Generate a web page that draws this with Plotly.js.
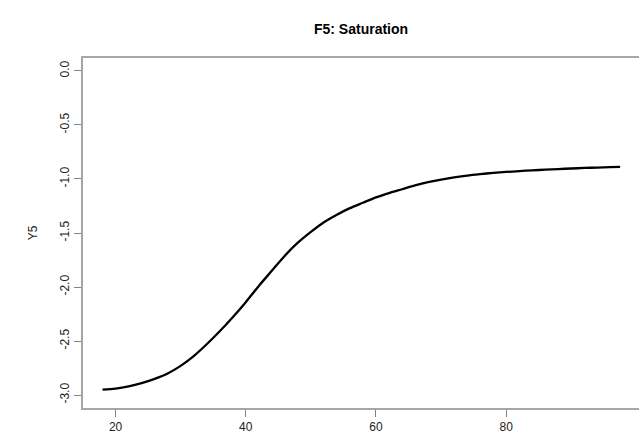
<!DOCTYPE html>
<html>
<head>
<meta charset="utf-8">
<script src="https://cdn.plot.ly/plotly-3.0.1.min.js"></script>
<style>html,body{margin:0;padding:0;background:#fff;}#chart{width:639px;height:439px;}</style>
</head>
<body>
<div id="chart"></div>
<script>
const xValues = [18, 20, 22, 24, 26, 28, 30, 32, 34, 36, 38, 40, 42, 44, 46, 48, 50, 52, 54, 56, 58, 60, 62, 64, 66, 68, 70, 72, 74, 76, 78, 80, 82, 84, 86, 88, 90, 92, 94, 96, 97.5];
const yValues = [-2.95, -2.94, -2.92, -2.89, -2.85, -2.80, -2.73, -2.64, -2.53, -2.41, -2.28, -2.14, -1.99, -1.85, -1.71, -1.59, -1.49, -1.40, -1.33, -1.27, -1.22, -1.17, -1.13, -1.095, -1.06, -1.03, -1.005, -0.985, -0.968, -0.955, -0.944, -0.935, -0.927, -0.92, -0.914, -0.908, -0.903, -0.898, -0.894, -0.89, -0.887];
const xTicks = [20, 40, 60, 80];
const yTicks = [0, -0.5, -1, -1.5, -2, -2.5, -3];
const yTickText = ["0.0", "-0.5", "-1.0", "-1.5", "-2.0", "-2.5", "-3.0"];
const titleText = "F5: Saturation";
const yTitle = "Y5";

const trace = {
  x: xValues, y: yValues, type: 'scatter', mode: 'lines',
  line: {color: '#000', width: 2.3, shape: 'spline', smoothing: 0.8}, hoverinfo: 'none'
};
const axisCommon = {
  showgrid: false, zeroline: false, showline: true, linecolor: '#a6a6a6', linewidth: 2,
  ticks: 'outside', ticklen: 7, tickcolor: '#808080', tickwidth: 1,
  tickfont: {family: 'Liberation Sans, Arial, sans-serif', size: 12, color: '#222'}
};
const layout = {
  width: 639, height: 439,
  margin: {l: 83, r: 0, t: 58, b: 31},
  paper_bgcolor: '#fff', plot_bgcolor: '#fff',
  showlegend: false,
  title: {text: '<b>' + titleText + '</b>', x: 0.565, xanchor: 'center', y: 0.934, yanchor: 'middle',
          font: {family: 'Liberation Sans, Arial, sans-serif', size: 14, color: '#000'}},
  xaxis: Object.assign({}, axisCommon, {
    range: [15.0, 100.4], tickvals: xTicks, ticktext: xTicks.map(String), mirror: true
  }),
  yaxis: Object.assign({}, axisCommon, {
    range: [-3.12, 0.12], tickvals: yTicks, ticktext: yTickText, tickangle: -90,
    title: {text: yTitle, standoff: 18, font: {family: 'Liberation Sans, Arial, sans-serif', size: 12, color: '#222'}}
  })
};
Plotly.newPlot('chart', [trace], layout, {displayModeBar: false, staticPlot: true});
</script>
</body>
</html>
